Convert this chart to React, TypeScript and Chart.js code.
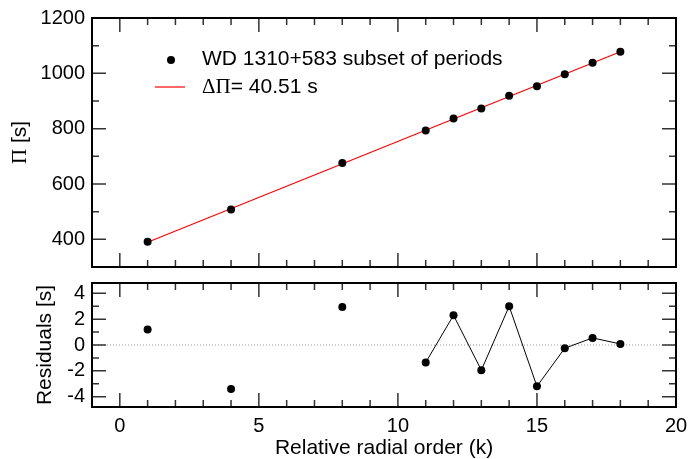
import React, { useEffect, useRef } from "react";
import { Chart, registerables } from "chart.js";

Chart.register(...registerables);

// ---- data ----
const kValues = [1, 4, 8, 11, 12, 13, 14, 15, 16, 17, 18];
const periods = [391, 507.5, 676, 793, 837, 873, 919, 953, 997, 1038, 1078];
const residuals = [1.2, -3.4, 2.95, -1.35, 2.3, -1.95, 3.0, -3.2, -0.25, 0.55, 0.08];
const linkedK = [11, 12, 13, 14, 15, 16, 17, 18];
const fitK = [1, 18];
const fitPeriods = [389.3, 1078.0];
const xTicks = [0, 5, 10, 15, 20];
const periodTicks = [400, 600, 800, 1000, 1200];
const residualTicks = [-4, -2, 0, 2, 4];
const xRange = [-1, 20];
const periodRange = [300, 1200];
const residualRange = [-4.8, 4.8];
const zeroLineK = [-1, 20];

const SANS = '"Liberation Sans", Arial, Helvetica, sans-serif';
const SERIF = '"Liberation Serif", "Times New Roman", serif';

function framePlugin(xMinor: number, xMajor: number, yMinor: number, yMajor: number) {
  return {
    id: "frame",
    afterDatasetsDraw(chart: any) {
      const { ctx, chartArea: a, scales } = chart;
      const xs = scales.x;
      const ys = scales.y;
      ctx.save();
      ctx.strokeStyle = "#333";
      ctx.lineWidth = 1.5;
      ctx.beginPath();
      const eps = 1e-9;
      for (let v = Math.ceil(xs.min / xMinor) * xMinor; v <= xs.max + eps; v += xMinor) {
        const px = xs.getPixelForValue(v);
        const r = Math.abs(v / xMajor - Math.round(v / xMajor)) < 1e-6;
        const len = r ? 14 : 7;
        ctx.moveTo(px, a.top);
        ctx.lineTo(px, a.top + len);
        ctx.moveTo(px, a.bottom);
        ctx.lineTo(px, a.bottom - len);
      }
      for (let v = Math.ceil(ys.min / yMinor - eps) * yMinor; v <= ys.max + eps; v += yMinor) {
        const py = ys.getPixelForValue(v);
        const r = Math.abs(v / yMajor - Math.round(v / yMajor)) < 1e-6;
        const len = r ? 14 : 7;
        ctx.moveTo(a.left, py);
        ctx.lineTo(a.left + len, py);
        ctx.moveTo(a.right, py);
        ctx.lineTo(a.right - len, py);
      }
      ctx.stroke();
      ctx.strokeStyle = "#000";
      ctx.lineWidth = 2;
      ctx.strokeRect(a.left, a.top, a.right - a.left, a.bottom - a.top);
      ctx.restore();
    },
  };
}

const topDecorations = {
  id: "topDecorations",
  afterDraw(chart: any) {
    const { ctx, chartArea: a } = chart;
    ctx.save();
    // legend
    ctx.fillStyle = "#000";
    ctx.beginPath();
    ctx.arc(a.left + 79, a.top + 42, 4, 0, Math.PI * 2);
    ctx.fill();
    ctx.textBaseline = "middle";
    ctx.textAlign = "left";
    ctx.font = `21px ${SANS}`;
    ctx.fillText("WD 1310+583 subset of periods", a.left + 110, a.top + 41);
    ctx.strokeStyle = "#ff0000";
    ctx.lineWidth = 1.2;
    ctx.beginPath();
    ctx.moveTo(a.left + 63, a.top + 69);
    ctx.lineTo(a.left + 93, a.top + 69);
    ctx.stroke();
    ctx.font = `21px ${SERIF}`;
    ctx.fillText("ΔΠ", a.left + 110, a.top + 69);
    const w = ctx.measureText("ΔΠ").width;
    ctx.font = `21px ${SANS}`;
    ctx.fillText("= 40.51 s", a.left + 110 + w, a.top + 69);
    // y title
    ctx.translate(20, (a.top + a.bottom) / 2);
    ctx.rotate(-Math.PI / 2);
    ctx.font = `21px ${SERIF}`;
    const w1 = ctx.measureText("Π").width;
    ctx.font = `21px ${SANS}`;
    const w2 = ctx.measureText(" [s]").width;
    const start = -(w1 + w2) / 2;
    ctx.font = `21px ${SERIF}`;
    ctx.fillText("Π", start, 0);
    ctx.font = `21px ${SANS}`;
    ctx.fillText(" [s]", start + w1, 0);
    ctx.restore();
  },
};

function zeroPad(s: any) {
  s.paddingTop = 0;
  s.paddingBottom = 0;
  s.paddingLeft = 0;
  s.paddingRight = 0;
}

const plainLabel = (v: any) => String(v);

export default function App() {
  const topRef = useRef<HTMLCanvasElement>(null);
  const botRef = useRef<HTMLCanvasElement>(null);

  useEffect(() => {
    const tickFont = { family: SANS, size: 20 };
    const top = new Chart(topRef.current as HTMLCanvasElement, {
      type: "scatter",
      data: {
        datasets: [
          {
            label: "WD 1310+583 subset of periods",
            data: kValues.map((k, i) => ({ x: k, y: periods[i] })),
            showLine: false,
            pointRadius: 4,
            pointBackgroundColor: "#000",
            pointBorderWidth: 0,
            order: 0,
          },
          {
            label: "fit",
            data: fitK.map((k, i) => ({ x: k, y: fitPeriods[i] })),
            showLine: true,
            borderColor: "#ff0000",
            borderWidth: 1.2,
            pointRadius: 0,
            order: 1,
          },
        ],
      },
      options: {
        animation: false,
        responsive: false,
        layout: { padding: { top: 18, right: 13, bottom: 8, left: 0 } },
        plugins: { legend: { display: false }, tooltip: { enabled: false } },
        scales: {
          x: { type: "linear", display: false, min: xRange[0], max: xRange[1] },
          y: {
            type: "linear",
            min: periodRange[0],
            max: periodRange[1],
            afterBuildTicks: (s: any) => {
              s.ticks = periodTicks.map((v) => ({ value: v }));
            },
            afterFit: (s: any) => {
              s.width = 92;
              zeroPad(s);
            },
            grid: { display: false, drawTicks: false },
            border: { display: false },
            ticks: { padding: 7, color: "#000", font: tickFont, callback: plainLabel },
          },
        },
      } as any,
      plugins: [framePlugin(1, 5, 100, 200), topDecorations],
    });

    const resPoints = kValues.map((k, i) => ({ x: k, y: residuals[i] }));
    const bot = new Chart(botRef.current as HTMLCanvasElement, {
      type: "scatter",
      data: {
        datasets: [
          {
            label: "residuals",
            data: resPoints,
            showLine: false,
            pointRadius: 4,
            pointBackgroundColor: "#000",
            pointBorderWidth: 0,
            order: 0,
          },
          {
            label: "linked",
            data: resPoints.filter((p) => linkedK.includes(p.x)),
            showLine: true,
            borderColor: "#000",
            borderWidth: 1,
            pointRadius: 0,
            order: 1,
          },
          {
            label: "zero",
            data: zeroLineK.map((k) => ({ x: k, y: 0 })),
            showLine: true,
            borderColor: "#999",
            borderWidth: 1,
            borderDash: [1, 2],
            pointRadius: 0,
            order: 2,
          },
        ],
      },
      options: {
        animation: false,
        responsive: false,
        layout: { padding: { top: 8, right: 13, bottom: 0, left: 0 } },
        plugins: { legend: { display: false }, tooltip: { enabled: false } },
        scales: {
          x: {
            type: "linear",
            min: xRange[0],
            max: xRange[1],
            afterBuildTicks: (s: any) => {
              s.ticks = xTicks.map((v) => ({ value: v }));
            },
            afterFit: (s: any) => {
              s.height = 52;
              zeroPad(s);
            },
            grid: { display: false, drawTicks: false },
            border: { display: false },
            ticks: { padding: 7, color: "#000", font: tickFont, maxRotation: 0, callback: plainLabel },
            title: {
              display: true,
              text: "Relative radial order (k)",
              color: "#000",
              font: { family: SANS, size: 21, lineHeight: 1 },
              padding: { top: 0, bottom: 0 },
            },
          },
          y: {
            type: "linear",
            min: residualRange[0],
            max: residualRange[1],
            afterBuildTicks: (s: any) => {
              s.ticks = residualTicks.map((v) => ({ value: v }));
            },
            afterFit: (s: any) => {
              s.width = 92;
              zeroPad(s);
            },
            grid: { display: false, drawTicks: false },
            border: { display: false },
            ticks: { padding: 7, color: "#000", font: tickFont, callback: plainLabel },
            title: {
              display: true,
              text: "Residuals [s]",
              color: "#000",
              font: { family: SANS, size: 21, lineHeight: 1 },
              padding: { top: 34.5, bottom: 0 },
            },
          },
        },
      } as any,
      plugins: [framePlugin(1, 5, 1, 2)],
    });

    return () => {
      top.destroy();
      bot.destroy();
    };
  }, []);

  return (
    <div style={{ position: "absolute", left: 0, top: 0, width: 689, height: 459, background: "#fff" }}>
      <canvas
        ref={topRef}
        width={689}
        height={275}
        style={{ position: "absolute", left: 0, top: 0, display: "block" }}
      />
      <canvas
        ref={botRef}
        width={689}
        height={184}
        style={{ position: "absolute", left: 0, top: 275, display: "block" }}
      />
    </div>
  );
}
